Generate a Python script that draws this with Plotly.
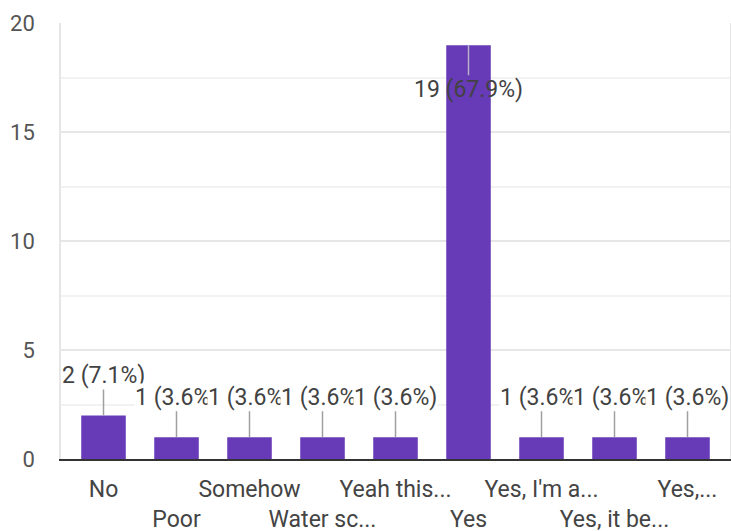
import plotly.graph_objects as go

# Survey responses per answer option
categories = ["No", "Poor", "Somehow", "Water sc...", "Yeah this...",
              "Yes", "Yes, I'm a...", "Yes, it be...", "Yes,..."]
counts = [2, 1, 1, 1, 1, 19, 1, 1, 1]
y_ticks = [0, 5, 10, 15, 20]

total = sum(counts)
labels = [f"{c} ({c / total * 100:.1f}%)" for c in counts]

# Alternate tick labels between two rows so long names do not collide
tick_text = [c if i % 2 == 0 else "<br>" + c for i, c in enumerate(categories)]

PURPLE = "#673ab7"
FONT = "Roboto"

fig = go.Figure(go.Bar(
    x=categories, y=counts,
    marker=dict(color=PURPLE, line=dict(width=0)),
    hoverinfo="skip",
))

ymax = max(y_ticks)
for cat, val, lab in zip(categories, counts, labels):
    inside = val > ymax * 0.85
    fig.add_annotation(
        x=cat, y=val, text=lab,
        showarrow=True, arrowhead=0, arrowwidth=1.5,
        arrowcolor="#a0a0a0" if not inside else "#b8b0c8",
        ax=0, ay=44 if inside else -40,
        font=dict(family=FONT, size=23, color="#424242"),
        bgcolor="rgba(0,0,0,0)" if inside else "white",
        borderpad=0,
    )

fig.update_layout(
    width=731, height=531,
    margin=dict(l=61, r=1, t=23, b=72),
    paper_bgcolor="white", plot_bgcolor="white",
    bargap=0.39,
    showlegend=False,
    font=dict(family=FONT, size=22, color="#555555"),
    xaxis=dict(
        tickmode="array", tickvals=categories, ticktext=tick_text,
        tickangle=0, automargin=False,
        showgrid=False, showline=True, linecolor="#333333", linewidth=2,
        ticks="outside", ticklen=8, tickcolor="rgba(0,0,0,0)",
        tickfont=dict(family=FONT, size=23, color="#444444"),
    ),
    yaxis=dict(
        range=[0, 20.02], tickvals=y_ticks, automargin=False,
        showgrid=True, gridcolor="#e6e6e6", gridwidth=1.5,
        minor=dict(dtick=2.5, showgrid=True, gridcolor="#f2f2f2", gridwidth=1.5),
        showline=True, linecolor="#e6e6e6", linewidth=1.5, mirror=True,
        zeroline=False,
        ticks="outside", ticklen=20, tickcolor="rgba(0,0,0,0)",
        tickfont=dict(family=FONT, size=22, color="#555555"),
    ),
)

fig.write_html("out.html")
